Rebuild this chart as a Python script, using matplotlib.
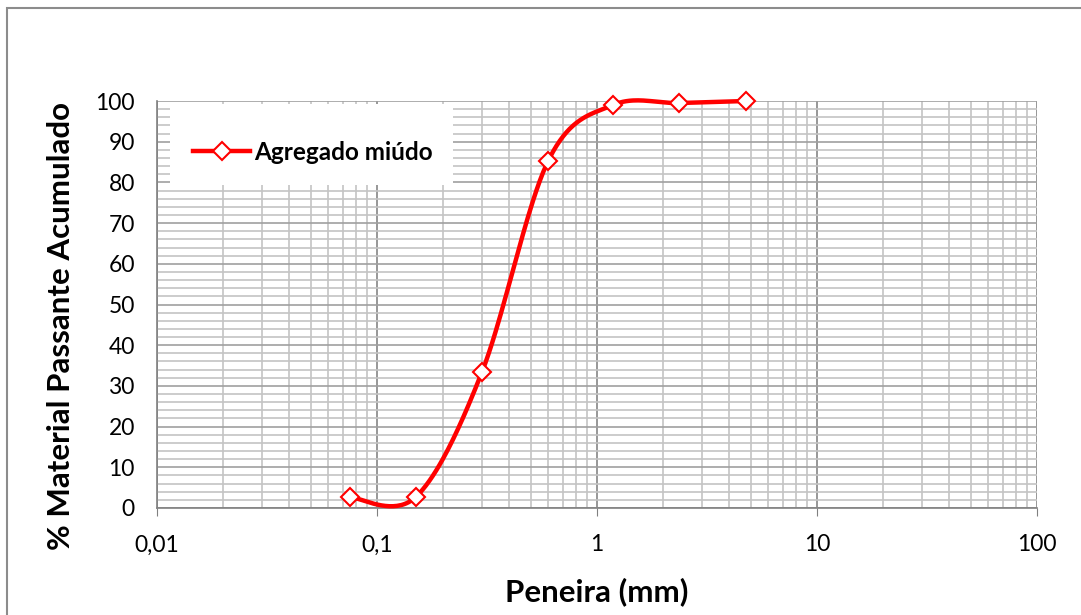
import matplotlib
matplotlib.use("Agg")
import matplotlib.pyplot as plt
import numpy as np
from matplotlib.lines import Line2D
from matplotlib.patches import Rectangle
from matplotlib.ticker import FixedLocator, NullFormatter

plt.rcParams["font.family"] = ["Lato", "DejaVu Sans"]

# -- Data ----------------------------------------------------------------------
sieve_mm = [0.075, 0.15, 0.3, 0.6, 1.18, 2.36, 4.75]
passing_pct = [2.7, 2.7, 33.4, 85.3, 99.0, 99.5, 100.0]
series_name = "Agregado miúdo"

x_ticks = [0.01, 0.1, 1, 10, 100]
x_ticklabels = ["0,01", "0,1", "1", "10", "100"]
y_ticks = list(range(0, 101, 10))

RED = "#FF0000"


def _smooth(xs, ys, n=40):
    """Excel-like smoothed line: Catmull-Rom Bezier in (log x, y) space."""
    px = np.log10(xs)
    py = np.asarray(ys, dtype=float)
    P = np.column_stack([px, py])
    P = np.vstack([P[0], P, P[-1]])
    out = []
    t = np.linspace(0, 1, n)[:, None]
    for i in range(1, len(P) - 2):
        p0, p1, p2, p3 = P[i - 1], P[i], P[i + 1], P[i + 2]
        c1 = p1 + (p2 - p0) / 6
        c2 = p2 - (p3 - p1) / 6
        seg = ((1 - t) ** 3) * p1 + 3 * ((1 - t) ** 2) * t * c1 \
            + 3 * (1 - t) * t ** 2 * c2 + t ** 3 * p2
        out.append(seg if i == 1 else seg[1:])
    out = np.vstack(out)
    return 10 ** out[:, 0], out[:, 1]


fig = plt.figure(figsize=(10.81, 6.15), dpi=100)
fig.patches.append(Rectangle((7 / 1081, -0.1), 1.2, 1 - 8 / 615 + 0.1,
                             transform=fig.transFigure, fill=False,
                             edgecolor="#8c8c8c", linewidth=1.5))

ax = fig.add_axes([157 / 1081, 1 - 508 / 615, 880 / 1081, 407 / 615])
ax.set_xscale("log")
ax.set_xlim(0.01, 100)
ax.set_ylim(0, 100)

# -- Grid ------------------------------------------------------------------------
ax.xaxis.set_major_locator(FixedLocator(x_ticks))
ax.set_xticklabels(x_ticklabels)
minor_x = [m * 10.0 ** e for e in range(-2, 2) for m in range(2, 10)]
ax.xaxis.set_minor_locator(FixedLocator(minor_x))
ax.xaxis.set_minor_formatter(NullFormatter())
ax.yaxis.set_major_locator(FixedLocator(y_ticks))
ax.yaxis.set_minor_locator(FixedLocator([v for v in range(0, 101, 2)]))

ax.grid(True, which="major", axis="x", color="#858585", linewidth=1.2)
ax.grid(True, which="minor", axis="x", color="#c4c4c4", linewidth=1.2)
ax.grid(True, which="major", axis="y", color="#a0a0a0", linewidth=1.2)
ax.grid(True, which="minor", axis="y", color="#c4c4c4", linewidth=1.2)
ax.set_axisbelow(True)

for side in ("top", "right"):
    ax.spines[side].set_visible(False)
ax.spines["left"].set_color("#808080")
ax.spines["bottom"].set_color("#808080")
ax.spines["left"].set_linewidth(1.2)
ax.spines["bottom"].set_linewidth(1.2)

ax.tick_params(axis="x", which="major", length=6, color="#808080",
               labelsize=16.5, pad=13)
ax.tick_params(axis="x", which="minor", length=0)
ax.tick_params(axis="y", which="both", length=0, labelsize=16.5, pad=16)

# -- Series ----------------------------------------------------------------------
sx, sy = _smooth(sieve_mm, passing_pct)
ax.plot(sx, sy, color=RED, linewidth=3.2, solid_capstyle="round", zorder=3,
        clip_on=False)
ax.plot(sieve_mm, passing_pct, linestyle="none", marker="D", markersize=9,
        markerfacecolor="white", markeredgecolor=RED, markeredgewidth=1.5,
        zorder=4, clip_on=False)

# -- Legend ----------------------------------------------------------------------
ax.add_patch(Rectangle((13 / 880, 1 - 84 / 407), 283 / 880, 81 / 407,
                       transform=ax.transAxes, facecolor="white",
                       edgecolor="none", zorder=2.5))
handle = Line2D([], [], color=RED, linewidth=3.2, marker="D", markersize=9,
                markerfacecolor="white", markeredgecolor=RED,
                markeredgewidth=1.5)
ax.legend([handle], [series_name], loc="center left",
          bbox_to_anchor=(36 / 880, 1 - 51 / 407),
          frameon=False, handlelength=2.35, handletextpad=0.15,
          borderaxespad=0, borderpad=0,
          prop={"size": 17.5, "weight": "bold"})

ax.set_xlabel("Peneira (mm)", fontsize=22.5, fontweight="bold", labelpad=16)
ax.set_ylabel("% Material Passante Acumulado", fontsize=22.5,
              fontweight="bold")
ax.yaxis.set_label_coords(-0.093, 0.447)

fig.savefig("out.png", dpi=100)
